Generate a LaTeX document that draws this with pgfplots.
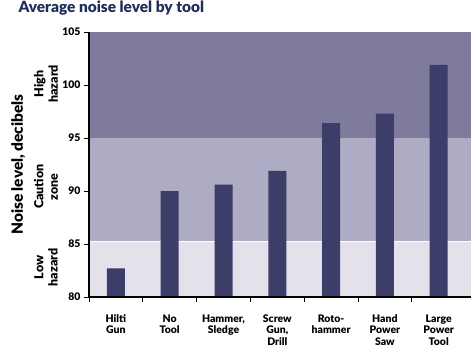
\documentclass[border=0pt]{standalone}
\usepackage{fontspec}
\setmainfont{Lato}[BoldFont={Lato Black}]
\usepackage{pgfplots}
\pgfplotsset{compat=1.18}
\definecolor{highz}{RGB}{126,123,156}
\definecolor{cautz}{RGB}{174,172,196}
\definecolor{lowz}{RGB}{227,226,234}
\definecolor{barc}{RGB}{60,61,104}
\definecolor{titlec}{RGB}{30,45,90}
\begin{document}
\begin{tikzpicture}
\begin{axis}[
  scale only axis, width=382bp, height=265bp,
  xmin=-0.5, xmax=6.6, ymin=80, ymax=105,
  axis lines*=left,
  clip mode=individual,
  axis on top,
  ytick={80,85,...,105},
  xtick={0,...,6},
  xticklabels={{Hilti\\Gun},{No\\Tool},{Hammer,\\Sledge},{Screw\\Gun,\\Drill},{Roto-\\hammer},{Hand\\Power\\Saw},{Large\\Power\\Tool}},
  minor xtick={-0.5,0.5,...,5.5},
  tick align=outside,
  major tick length=5bp, minor tick length=5bp,
  every major x tick/.append style={draw=none},
  every tick/.append style={black, line width=0.8bp},
  x tick label style={font=\bfseries\fontsize{10.5}{11.5}\selectfont, align=center, anchor=north, yshift=-9bp},
  y tick label style={font=\bfseries\fontsize{10.5}{11}\selectfont},
  /pgf/number format/assume math mode=true,
  x axis line style={line width=1.8bp},
  y axis line style={line width=2.8bp},
  ylabel={Noise level, decibels},
  ylabel style={font=\bfseries\fontsize{15.5}{17}\selectfont, at={(axis description cs:-0.185,0.5)}, anchor=center},
]
\addplot[fill=lowz, draw=none] coordinates {(-0.5,80) (6.6,80) (6.6,85.2) (-0.5,85.2)} -- cycle;
\addplot[fill=cautz, draw=none] coordinates {(-0.5,85.2) (6.6,85.2) (6.6,95) (-0.5,95)} -- cycle;
\addplot[fill=highz, draw=none] coordinates {(-0.5,95) (6.6,95) (6.6,105) (-0.5,105)} -- cycle;
\addplot[white, line width=1bp] coordinates {(-0.5,85.2) (6.6,85.2)};
\addplot[ybar, bar width=18bp, fill=barc, draw=none] coordinates {(0,82.7) (1,90.0) (2,90.6) (3,91.9) (4,96.4) (5,97.3) (6,101.9)};
\node[rotate=90, align=center, font=\bfseries\fontsize{12.5}{14.5}\selectfont] at ([xshift=-43bp]axis cs:-0.5,100.1) {High\\hazard};
\node[rotate=90, align=center, font=\bfseries\fontsize{12.5}{14.5}\selectfont] at ([xshift=-43bp]axis cs:-0.5,90.4) {Caution\\zone};
\node[rotate=90, align=center, font=\bfseries\fontsize{12.5}{14.5}\selectfont] at ([xshift=-43bp]axis cs:-0.5,82.8) {Low\\hazard};
\coordinate (ll) at (rel axis cs:0,0);
\coordinate (ur) at (rel axis cs:1,1);
\end{axis}
\node[anchor=base west, font=\bfseries\fontsize{15.5}{17}\selectfont, text=titlec] at ([xshift=-74bp, yshift=19.5bp]ll |- ur) {Average noise level by tool};
\pgfresetboundingbox
\path ([shift={(-89bp,-49bp)}]ll) rectangle ([yshift=32bp]ur);
\end{tikzpicture}
\end{document}
